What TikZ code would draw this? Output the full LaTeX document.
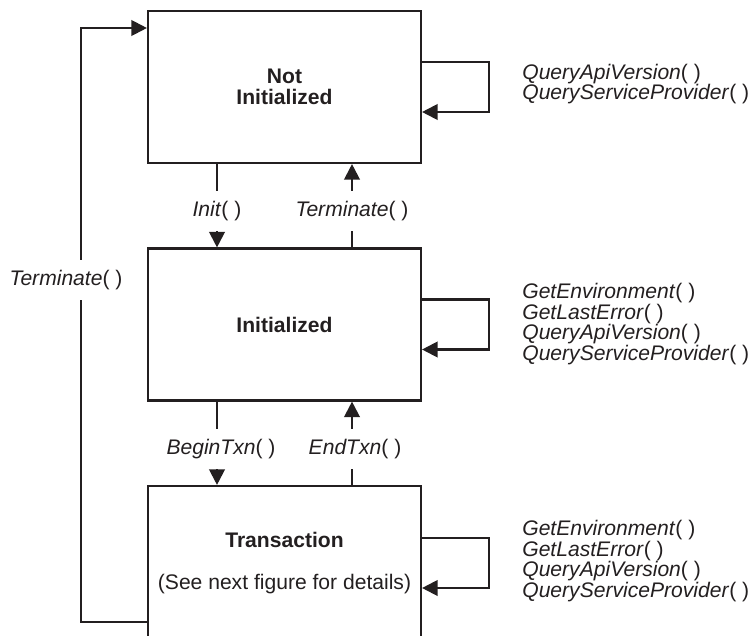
\documentclass[tikz,border=0pt]{standalone}
\usepackage{fontspec}
\setmainfont{Liberation Sans}
\usetikzlibrary{arrows.meta}
\definecolor{ink}{RGB}{35,31,32}
\newcommand{\figsize}{\fontsize{12}{11.7}\selectfont}

\begin{document}
\begin{tikzpicture}[x=0.2mm,y=-0.2mm,color=ink,
    state/.style={draw,line width=1.2pt,minimum width=54.6mm,minimum height=30.4mm,
        inner sep=0pt,align=center,font=\figsize\bfseries},
    call/.style={inner sep=0pt,minimum height=8mm,font=\figsize},
    calls/.style={anchor=west,inner sep=0pt,align=left,font=\figsize},
    flow/.style={line width=1.2pt},
    tip/.style={line width=1.2pt,-{Triangle[length=3.1mm,width=3.1mm]}}]
        \useasboundingbox (0,0) rectangle (750,636);

        % states
        \node[state] (notinit) at (284.5,87) {Not\\Initialized};
        \node[state] (inited) at (284.5,324.5) {Initialized};
        \node[state,minimum height=30.8mm] (trans) at (284.5,563)
            {Transaction\\[12pt]\mdseries(See next figure for details)};

        % labels on the transitions
        \node[call] (init) at (217,211) {\textit{Init}( )};
        \node[call] (termup) at (352,211) {\textit{Terminate}( )};
        \node[call] (begin) at (221,449) {\textit{BeginTxn}( )};
        \node[call] (endtxn) at (355,449) {\textit{EndTxn}( )};
        \node[call] (term) at (66,280) {\textit{Terminate}( )};

        % calls that keep the state
        \node[calls] (qnotinit) at (522,84) {\textit{QueryApiVersion}( )\\\textit{QueryServiceProvider}( )};
        \node[calls] (qinit) at (522,324) {\textit{GetEnvironment}( )\\\textit{GetLastError}( )\\
            \textit{QueryApiVersion}( )\\\textit{QueryServiceProvider}( )};
        \node[calls] (qtrans) at (522,561) {\textit{GetEnvironment}( )\\\textit{GetLastError}( )\\
            \textit{QueryApiVersion}( )\\\textit{QueryServiceProvider}( )};

        \draw[flow] (notinit.south -| init) -- (init.north);
        \draw[tip] (init.south) -- (init.south |- inited.north);
        \draw[flow] (inited.north -| termup) -- (termup.south);
        \draw[tip] (termup.north) -- (termup.north |- notinit.south);

        \draw[flow] (inited.south -| init) -- (init |- begin.north);
        \draw[tip] (init |- begin.south) -- (init |- trans.north);
        \draw[flow] (trans.north -| termup) -- (termup |- endtxn.south);
        \draw[tip] (termup |- endtxn.north) -- (termup |- inited.south);

        % back to the start
        \coordinate (lowleft) at (81,622);
        \coordinate (upleft) at (81,28);
        \draw[flow] (trans.west |- lowleft) -- (lowleft) -- (lowleft |- term.south);
        \draw[tip] (upleft |- term.north) -- (upleft) -- (notinit.west |- upleft);

        % self loops
        \draw[tip] ([yshift=5mm]notinit.east) -- ++(67,0) |- ([yshift=-5mm]notinit.east);
        \draw[tip] ([yshift=5mm]inited.east) -- ++(67,0) |- ([yshift=-5mm]inited.east);
        \draw[tip] ([yshift=5mm]trans.east) -- ++(67,0) |- ([yshift=-5mm]trans.east);
\end{tikzpicture}
\end{document}
